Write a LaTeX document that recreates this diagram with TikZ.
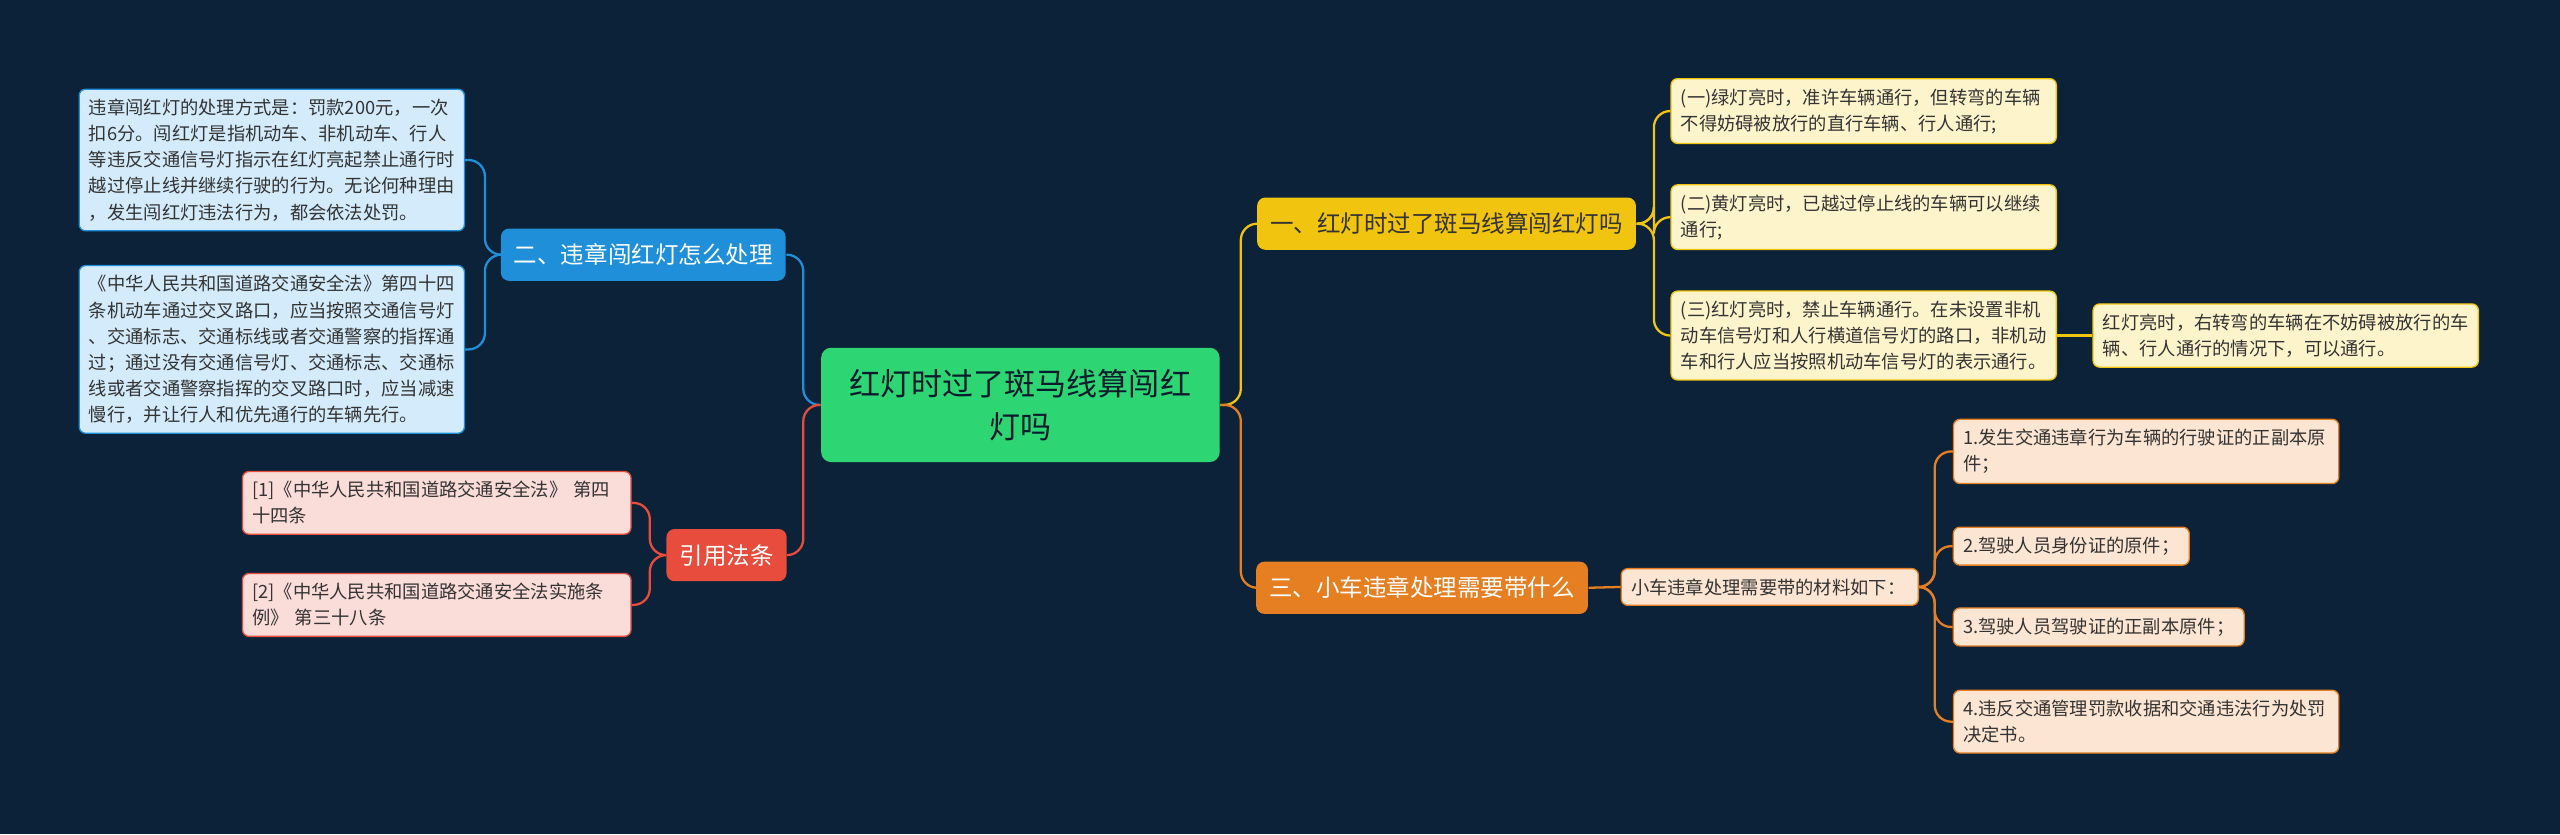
\documentclass[tikz,border=0pt]{standalone}
\usepackage{fontspec}
\setmainfont{Noto Sans CJK SC}
\begin{document}
\definecolor{bg}{HTML}{0C2238}
\definecolor{cG}{HTML}{2ED573}
\definecolor{cY}{HTML}{F1C40F}
\definecolor{cO}{HTML}{E67E22}
\definecolor{cB}{HTML}{1E8FD8}
\definecolor{cR}{HTML}{E74C3C}
\definecolor{lY}{HTML}{FEF4CC}
\definecolor{lO}{HTML}{FCE5D2}
\definecolor{lB}{HTML}{D3EBFA}
\definecolor{lR}{HTML}{FADCD8}
\definecolor{tx}{HTML}{333333}
\begin{tikzpicture}[x=0.5pt,y=-0.5pt,
  leaf/.style={rectangle,rounded corners=2pt,font=\fontsize{5.6}{8}\selectfont,align=left,inner sep=3pt,text=tx,line width=0.4pt},
  l1/.style={rectangle,rounded corners=2.5pt,font=\fontsize{7.2}{9}\selectfont,inner sep=4pt,minimum height=16pt,text=white},
  e/.style={line width=0.7pt,rounded corners=5pt}]
\fill[bg] (0,0) rectangle (1568,511);
\useasboundingbox (0,0) rectangle (1568,511);
% root
\node[rectangle,rounded corners=3pt,fill=cG,text=bg!80!black,font=\fontsize{9.5}{13}\selectfont,align=center,minimum width=122pt,minimum height=35pt] (root) at (625,248) {红灯时过了斑马线算闯红\\灯吗};
% L1
\node[l1,fill=cY,text=tx,minimum width=116pt] (y1) at (886,137) {一、红灯时过了斑马线算闯红灯吗};
\node[l1,fill=cO,minimum width=101pt] (o1) at (871,360) {三、小车违章处理需要带什么};
\node[l1,fill=cB,minimum width=86pt] (b1) at (394,156) {二、违章闯红灯怎么处理};
\node[l1,fill=cR,minimum width=36pt] (r1) at (445,340) {引用法条};
% yellow leaves
\node[leaf,fill=lY,draw=cY,text width=112pt] (ya) at (1141.5,68) {(一)绿灯亮时，准许车辆通行，但转弯的车辆\\不得妨碍被放行的直行车辆、行人通行;};
\node[leaf,fill=lY,draw=cY,text width=112pt] (yb) at (1141.5,133) {(二)黄灯亮时，已越过停止线的车辆可以继续\\通行;};
\node[leaf,fill=lY,draw=cY,text width=112pt] (yc) at (1141.5,205.5) {(三)红灯亮时，禁止车辆通行。在未设置非机\\动车信号灯和人行横道信号灯的路口，非机动\\车和行人应当按照机动车信号灯的表示通行。};
\node[leaf,fill=lY,draw=cY,text width=112pt] (yd) at (1400,205.5) {红灯亮时，右转弯的车辆在不妨碍被放行的车\\辆、行人通行的情况下，可以通行。};
% orange leaves
\node[leaf,fill=lO,draw=cO,text width=85pt] (oa) at (1084,359.5) {小车违章处理需要带的材料如下：};
\node[leaf,fill=lO,draw=cO,text width=112pt] (o1a) at (1314.5,276.5) {1.发生交通违章行为车辆的行驶证的正副本原\\件；};
\node[leaf,fill=lO,draw=cO,anchor=west] (o1b) at (1196,334.5) {2.驾驶人员身份证的原件；};
\node[leaf,fill=lO,draw=cO,anchor=west] (o1c) at (1196,384) {3.驾驶人员驾驶证的正副本原件；};
\node[leaf,fill=lO,draw=cO,text width=112pt] (o1d) at (1314.5,442) {4.违反交通管理罚款收据和交通违法行为处罚\\决定书。};
% blue leaves
\node[leaf,fill=lB,draw=cB,text width=112pt] (ba) at (166.5,98) {违章闯红灯的处理方式是：罚款200元，一次\\扣6分。闯红灯是指机动车、非机动车、行人\\等违反交通信号灯指示在红灯亮起禁止通行时\\越过停止线并继续行驶的行为。无论何种理由\\，发生闯红灯违法行为，都会依法处罚。};
\node[leaf,fill=lB,draw=cB,text width=112pt] (bb) at (166.5,214) {《中华人民共和国道路交通安全法》第四十四\\条机动车通过交叉路口，应当按照交通信号灯\\、交通标志、交通标线或者交通警察的指挥通\\过；通过没有交通信号灯、交通标志、交通标\\线或者交通警察指挥的交叉路口时，应当减速\\慢行，并让行人和优先通行的车辆先行。};
% red leaves
\node[leaf,fill=lR,draw=cR,text width=113pt] (ra) at (267.5,308) {[1]《中华人民共和国道路交通安全法》 第四\\十四条};
\node[leaf,fill=lR,draw=cR,text width=113pt] (rb) at (267.5,370.5) {[2]《中华人民共和国道路交通安全法实施条\\例》 第三十八条};
% edges
\draw[e,cY] (root.east) -- (760,248) |- (y1.west);
\draw[e,cO] (root.east) -- (760,248) |- (o1.west);
\draw[e,cB] (root.west) -- (492,248) |- (b1.east);
\draw[e,cR] (root.west) -- (492,248) |- (r1.east);
\foreach \n in {ya,yb,yc} \draw[e,cY] (y1.east) -- (1013,137) |- (\n.west);
\draw[e,cY] (yc.east) -- (yd.west);
\draw[e,cO] (o1.east) -- (oa.west);
\foreach \n in {o1a,o1b,o1c,o1d} \draw[e,cO] (oa.east) -- (1185,359.5) |- (\n.west);
\foreach \n in {ba,bb} \draw[e,cB] (b1.west) -- (297,156) |- (\n.east);
\foreach \n in {ra,rb} \draw[e,cR] (r1.west) -- (398,340) |- (\n.east);
\end{tikzpicture}
\end{document}
